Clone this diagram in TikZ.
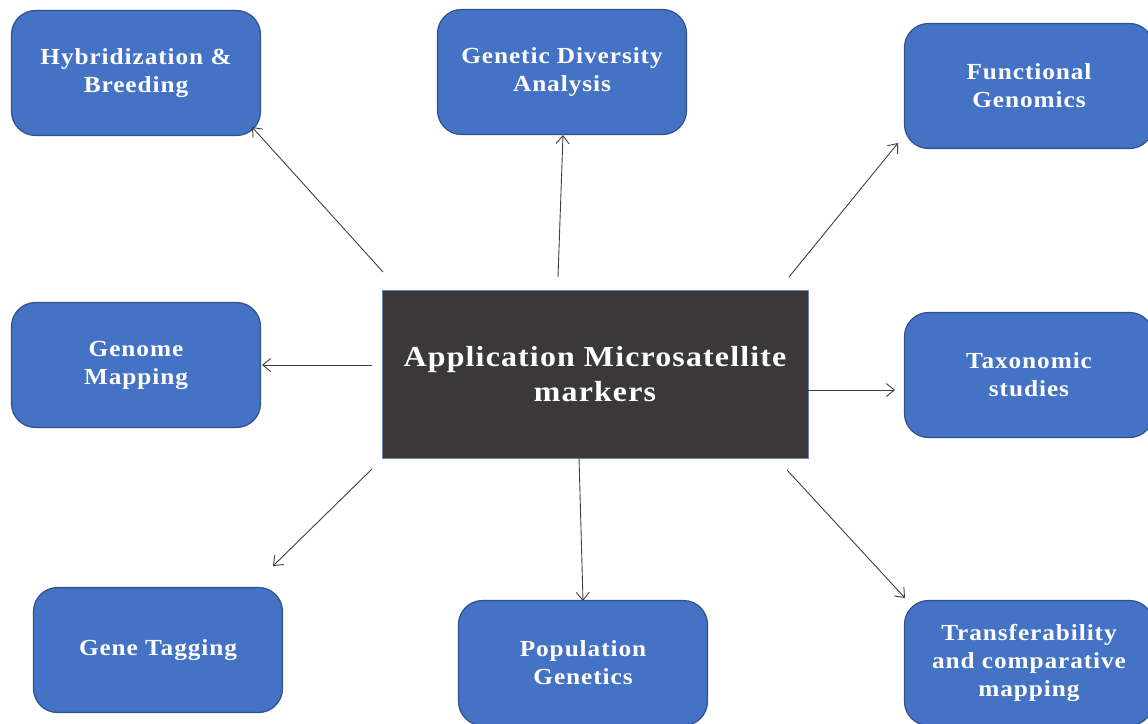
\documentclass[tikz,border=0pt]{standalone}
\usepackage{fontspec}
\setmainfont{Liberation Serif}
\newfontfamily\boxfont[FakeStretch=1.1, LetterSpace=4]{Liberation Serif}
\usetikzlibrary{arrows.meta}
\definecolor{boxblue}{HTML}{4472C4}
\definecolor{boxline}{HTML}{2F528F}
\definecolor{hubgrey}{HTML}{3A3839}
\begin{document}
\begin{tikzpicture}[x=1pt, y=-1pt,
  appbox/.style={draw=boxline, fill=boxblue, rounded corners=24pt, line width=1.2pt,
    minimum width=249pt, minimum height=125pt, inner sep=0pt, align=center,
    text=white, font=\boxfont\fontsize{23}{28}\selectfont\bfseries},
  link/.style={-{Straight Barb[length=8pt,width=13pt]}, draw=black!75, line width=0.9pt}]
\useasboundingbox (0,0) rectangle (1148,723);

% centre
\node[fill=hubgrey, draw=boxline!70, line width=0.8pt, minimum width=426pt, minimum height=168pt,
  text=white, align=center, font=\boxfont\fontsize{29}{35}\selectfont\bfseries]
  (hub) at (595,374) {Application Microsatellite\\markers};

% applications
\node[appbox] (hyb) at (136,73) {Hybridization \&\\Breeding};
\node[appbox] (gda) at (562,72) {Genetic Diversity\\Analysis};
\node[appbox] (fgen) at (1029,86) {Functional\\Genomics};
\node[appbox] (gmap) at (136,365) {Genome\\Mapping};
\node[appbox] (tax) at (1029,375) {Taxonomic\\studies};
\node[appbox] (gtag) at (158,650) {Gene Tagging};
\node[appbox] (popg) at (583,663) {Population\\Genetics};
\node[appbox] (trans) at (1029,663) {Transferability\\and comparative\\mapping};

% arrow ends
\coordinate (s1) at (383,272); \coordinate (e1) at (252,127);
\coordinate (s2) at (558,277); \coordinate (e2) at (563,135);
\coordinate (s3) at (789,277); \coordinate (e3) at (898,143);
\coordinate (s4) at (372,365); \coordinate (e4) at (262,365);
\coordinate (s5) at (808,390); \coordinate (e5) at (895,390);
\coordinate (s6) at (372,469); \coordinate (e6) at (273,566);
\coordinate (s7) at (579,457); \coordinate (e7) at (583,601);
\coordinate (s8) at (787,470); \coordinate (e8) at (905,598);

\draw[link] (s1) -- (e1);
\draw[link] (s2) -- (e2);
\draw[link] (s3) -- (e3);
\draw[link] (s4) -- (e4);
\draw[link] (s5) -- (e5);
\draw[link] (s6) -- (e6);
\draw[link] (s7) -- (e7);
\draw[link] (s8) -- (e8);

\end{tikzpicture}
\end{document}
